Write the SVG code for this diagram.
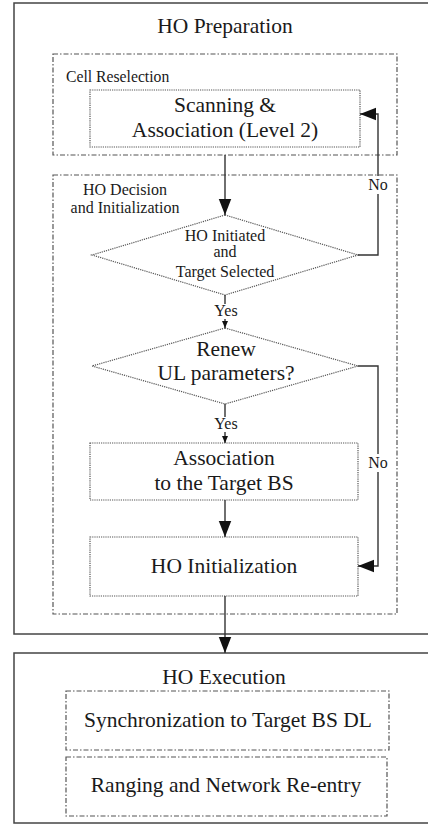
<svg xmlns="http://www.w3.org/2000/svg" width="428" height="824" viewBox="0 0 428 824">
  <style>
    text { font-family: "Liberation Serif", "Times New Roman", serif; fill: #1a1a1a; text-anchor: middle; }
    .t18 { font-size: 21.5px; }
    .t14 { font-size: 16px; }
    .t13 { font-size: 15.7px; }
    .frame { fill: #fff; stroke: #444; stroke-width: 1.5; }
    .group { fill: none; stroke: #555; stroke-width: 1.2; stroke-dasharray: 5 2 1.5 2; }
    .step { fill: #fff; stroke: #555; stroke-width: 1.2; stroke-dasharray: 1.2 1; }
    .link { fill: none; stroke: #333; stroke-width: 1.4; }
  </style>
  <defs>
    <marker id="big" markerWidth="16" markerHeight="20" refX="18" refY="7" viewBox="0 0 18 14" markerUnits="userSpaceOnUse" orient="auto">
      <path d="M0,0 L18,7 L0,14 Z" fill="#111"/>
    </marker>
    <marker id="small" markerWidth="7" markerHeight="7" refX="7" refY="3" viewBox="0 0 7 6" markerUnits="userSpaceOnUse" orient="auto">
      <path d="M0,0 L7,3 L0,6 Z" fill="#111"/>
    </marker>
  </defs>
  <rect width="428" height="824" fill="#fff"/>

  <!-- HO Preparation frame -->
  <g id="ho-preparation">
    <rect class="frame" x="14" y="3" width="420" height="631"/>
    <text class="t18" x="225" y="33">HO Preparation</text>
  </g>

  <g id="cell-reselection">
    <rect class="group" x="53" y="54" width="344" height="101"/>
    <text class="t13" x="66" y="82" style="text-anchor:start">Cell Reselection</text>
  </g>

  <g id="scanning">
    <rect class="step" x="90" y="90" width="270" height="57"/>
    <text class="t18" x="225" y="112">Scanning &amp;</text>
    <text class="t18" x="225" y="137">Association (Level 2)</text>
  </g>

  <g id="ho-decision">
    <rect class="group" x="53" y="175" width="344" height="439"/>
    <text class="t14" x="125" y="195">HO Decision</text>
    <text class="t14" x="125" y="213">and Initialization</text>
  </g>

  <g id="decision-target">
    <polygon class="step" points="225,215 358,255 225,295 92,255"/>
    <text class="t14" x="225" y="241">HO Initiated</text>
    <text class="t14" x="225" y="257">and</text>
    <text class="t14" x="225" y="277">Target Selected</text>
  </g>

  <g id="decision-renew">
    <polygon class="step" points="225,328 358,366 225,404 92,366"/>
    <text class="t18" x="226" y="356">Renew</text>
    <text class="t18" x="226" y="380">UL parameters?</text>
  </g>

  <g id="association">
    <rect class="step" x="90" y="443" width="268" height="57"/>
    <text class="t18" x="224" y="465">Association</text>
    <text class="t18" x="224" y="490">to the Target BS</text>
  </g>

  <g id="ho-initialization">
    <rect class="step" x="90" y="537" width="268" height="59"/>
    <text class="t18" x="224" y="573">HO Initialization</text>
  </g>

  <!-- HO Execution frame -->
  <g id="ho-execution">
    <rect class="frame" x="14" y="653" width="420" height="170"/>
    <text class="t18" x="224" y="684">HO Execution</text>
  </g>

  <g id="synchronization">
    <rect class="group" x="66" y="691" width="323" height="59"/>
    <text class="t18" x="228" y="727">Synchronization to Target BS DL</text>
  </g>

  <g id="ranging">
    <rect class="group" x="66" y="757" width="321" height="59"/>
    <text class="t18" x="226" y="792">Ranging and Network Re-entry</text>
  </g>

  <!-- connectors -->
  <g id="connectors">
    <path class="link" d="M225,155 V215" marker-end="url(#big)"/>
    <path class="link" d="M358,255 H378 V114 H360" marker-end="url(#big)"/>
    <path class="link" d="M225,295 V328" marker-end="url(#small)"/>
    <path class="link" d="M225,404 V443" marker-end="url(#small)"/>
    <path class="link" d="M225,500 V537" marker-end="url(#big)"/>
    <path class="link" d="M358,366 H378 V566 H358" marker-end="url(#big)"/>
    <path class="link" d="M225,596 V653" marker-end="url(#big)"/>
    <rect x="367" y="176" width="22" height="18" fill="#fff"/>
    <text class="t14" x="378" y="190">No</text>
    <rect x="213" y="304" width="26" height="15" fill="#fff"/>
    <text class="t14" x="226" y="316">Yes</text>
    <rect x="213" y="417" width="26" height="15" fill="#fff"/>
    <text class="t14" x="226" y="429">Yes</text>
    <rect x="367" y="454" width="22" height="18" fill="#fff"/>
    <text class="t14" x="378" y="468">No</text>
  </g>
</svg>
